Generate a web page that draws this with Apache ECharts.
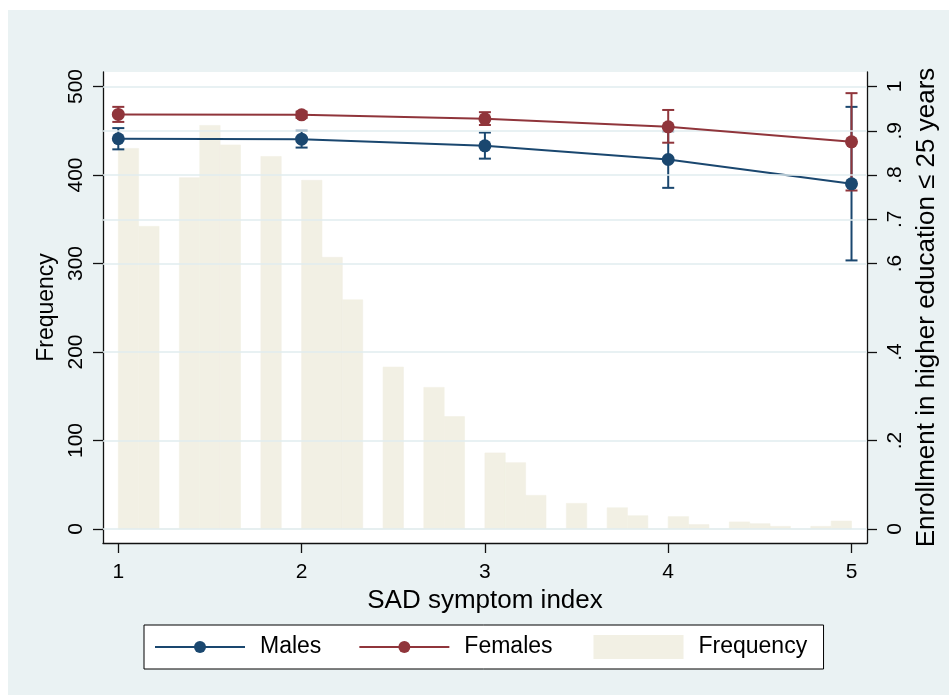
<!DOCTYPE html>
<html>
<head>
<meta charset="utf-8">
<script src="https://cdn.jsdelivr.net/npm/echarts@6/dist/echarts.min.js"></script>
<style>
  html, body { margin: 0; padding: 0; background: #ffffff; }
  #bg { position: absolute; left: 8px; top: 10px; width: 941px; height: 685px; background: #eaf2f3; }
  #chart { position: absolute; left: 0; top: 0; width: 949px; height: 695px; }
</style>
</head>
<body>
<div id="bg"></div>
<div id="chart"></div>
<script>
// ---- Data ----
const binStart = 1;
const binWidth = 1 / 9;
const freqCounts = [430, 342, 0, 397, 456, 434, 0, 421, 0, 394, 307, 259, 0, 183, 0, 160, 127, 0,
                    86, 75, 38, 0, 29, 0, 24, 15, 0, 14, 5, 0, 8, 6, 3, 0, 3, 9];
const sadIndex = [1, 2, 3, 4, 5];
const males = [0.882, 0.881, 0.866, 0.835, 0.780];
const malesLo = [0.858, 0.862, 0.837, 0.771, 0.607];
const malesHi = [0.906, 0.900, 0.896, 0.899, 0.954];
const females = [0.937, 0.936, 0.927, 0.909, 0.875];
const femalesLo = [0.920, 0.929, 0.913, 0.873, 0.765];
const femalesHi = [0.954, 0.943, 0.942, 0.947, 0.985];
const xTicks = [1, 2, 3, 4, 5];
const leftTicks = [0, 100, 200, 300, 400, 500];
const rightTicks = [0, 0.2, 0.4, 0.6, 0.7, 0.8, 0.9, 1];

const BLUE = '#1a476f';
const RED = '#90353b';
const BAR = '#f2f0e4';
const GRID = '#e0ecef';
const INK = '#111111';
const FONT = "'Liberation Sans', Arial, Helvetica, sans-serif";

const histData = freqCounts.map((f, i) => [binStart + i * binWidth, binStart + (i + 1) * binWidth, f]);
const maleLine = sadIndex.map((x, i) => [x, males[i]]);
const femaleLine = sadIndex.map((x, i) => [x, females[i]]);
const maleErr = sadIndex.map((x, i) => [x, malesLo[i], malesHi[i]]);
const femaleErr = sadIndex.map((x, i) => [x, femalesLo[i], femalesHi[i]]);

function errRender(color) {
  return function (params, api) {
    const x = api.value(0);
    const lo = api.coord([x, api.value(1)]);
    const hi = api.coord([x, api.value(2)]);
    const cw = 6;
    const st = { stroke: color, lineWidth: 2 };
    return {
      type: 'group',
      children: [
        { type: 'line', shape: { x1: lo[0], y1: lo[1], x2: hi[0], y2: hi[1] }, style: st },
        { type: 'line', shape: { x1: lo[0] - cw, y1: lo[1], x2: lo[0] + cw, y2: lo[1] }, style: st },
        { type: 'line', shape: { x1: hi[0] - cw, y1: hi[1], x2: hi[0] + cw, y2: hi[1] }, style: st }
      ]
    };
  };
}

function histRender(params, api) {
  const p0 = api.coord([api.value(0), api.value(2)]);
  const p1 = api.coord([api.value(1), 0]);
  return {
    type: 'rect',
    shape: { x: p0[0], y: p0[1], width: p1[0] - p0[0], height: p1[1] - p0[1] },
    style: { fill: BAR, stroke: BAR, lineWidth: 0.6 }
  };
}

const axisLineStyle = { color: INK, width: 1.3 };

const chart = echarts.init(document.getElementById('chart'), null, { renderer: 'canvas' });
chart.setOption({
  backgroundColor: 'transparent',
  animation: false,
  textStyle: { fontFamily: FONT },
  grid: {
    left: 103, right: 82, top: 72, bottom: 152,
    show: true, backgroundColor: '#ffffff', borderWidth: 0
  },
  legend: [
    {
      data: ['Males', 'Females'],
      left: 144, top: 625,
      orient: 'horizontal',
      itemWidth: 90, itemHeight: 15, itemGap: 37,
      padding: [10.5, 271, 10.5, 10],
      borderColor: '#000', borderWidth: 1, backgroundColor: '#ffffff',
      textStyle: { fontSize: 23, color: '#000', fontFamily: FONT, padding: [0, 0, 0, 10] },
      selectedMode: false
    },
    {
      data: [{ name: 'Frequency', icon: 'rect' }],
      left: 593.5, top: 635,
      itemWidth: 90, itemHeight: 24,
      padding: 0,
      textStyle: { fontSize: 23, color: '#000', fontFamily: FONT, padding: [0, 0, 0, 10] },
      selectedMode: false
    }
  ],
  xAxis: {
    type: 'value',
    min: 0.9165, max: 5.0845,
    axisLine: { show: true, onZero: false, lineStyle: axisLineStyle },
    axisTick: { show: true, length: 10, customValues: xTicks, lineStyle: axisLineStyle },
    axisLabel: { customValues: xTicks, fontSize: 21, color: '#000', margin: 19, fontFamily: FONT },
    splitLine: { show: false },
    name: 'SAD symptom index',
    nameLocation: 'middle',
    nameGap: 41,
    nameTextStyle: { fontSize: 26, color: '#000', fontFamily: FONT }
  },
  yAxis: [
    {
      type: 'value',
      position: 'left',
      min: -15.8, max: 516.4,
      axisLine: { show: true, onZero: false, lineStyle: axisLineStyle },
      axisTick: { show: true, length: 10, customValues: leftTicks, lineStyle: axisLineStyle },
      axisLabel: { customValues: leftTicks, rotate: 90, fontSize: 21, color: '#000', margin: 16, fontFamily: FONT },
      splitLine: { show: false },
      name: 'Frequency',
      nameLocation: 'middle',
      nameRotate: 90,
      nameGap: 40,
      nameTextStyle: { fontSize: 23, color: '#000', fontFamily: FONT }
    },
    {
      type: 'value',
      position: 'right',
      min: -0.0316, max: 1.0328,
      axisLine: { show: true, onZero: false, lineStyle: axisLineStyle },
      axisTick: { show: true, length: 10, customValues: rightTicks, lineStyle: axisLineStyle },
      axisLabel: {
        customValues: rightTicks, rotate: 90, fontSize: 21, color: '#000', margin: 18, fontFamily: FONT,
        formatter: function (v) { return (v === 0 || v === 1) ? String(v) : String(v).replace(/^0\./, '.'); }
      },
      splitLine: { show: false },
      name: 'Enrollment in higher education \u2264 25 years',
      nameLocation: 'middle',
      nameRotate: 90,
      nameGap: 41,
      nameTextStyle: { fontSize: 26, color: '#000', fontFamily: FONT }
    }
  ],
  series: [
    {
      name: 'Frequency',
      type: 'custom',
      xAxisIndex: 0, yAxisIndex: 0,
      renderItem: histRender,
      encode: { x: [0, 1], y: 2 },
      itemStyle: { color: BAR },
      data: histData,
      z: 1
    },
    {
      name: 'Males CI',
      type: 'custom',
      yAxisIndex: 1,
      renderItem: errRender(BLUE),
      encode: { x: 0, y: [1, 2] },
      itemStyle: { color: BLUE },
      data: maleErr,
      markLine: {
        silent: true,
        symbol: ['none', 'none'],
        label: { show: false },
        lineStyle: { color: GRID, width: 1.5, type: 'solid' },
        emphasis: { disabled: true },
        data: rightTicks.map(v => ({ yAxis: v }))
      },
      z: 2
    },
    {
      name: 'Females CI',
      type: 'custom',
      yAxisIndex: 1,
      renderItem: errRender(RED),
      encode: { x: 0, y: [1, 2] },
      itemStyle: { color: RED },
      data: femaleErr,
      z: 3
    },
    {
      name: 'Males',
      type: 'line',
      yAxisIndex: 1,
      data: maleLine,
      symbol: 'circle', symbolSize: 13,
      lineStyle: { color: BLUE, width: 2 },
      itemStyle: { color: BLUE },
      z: 4
    },
    {
      name: 'Females',
      type: 'line',
      yAxisIndex: 1,
      data: femaleLine,
      symbol: 'circle', symbolSize: 13,
      lineStyle: { color: RED, width: 2 },
      itemStyle: { color: RED },
      z: 5
    }
  ]
});
</script>
</body>
</html>
